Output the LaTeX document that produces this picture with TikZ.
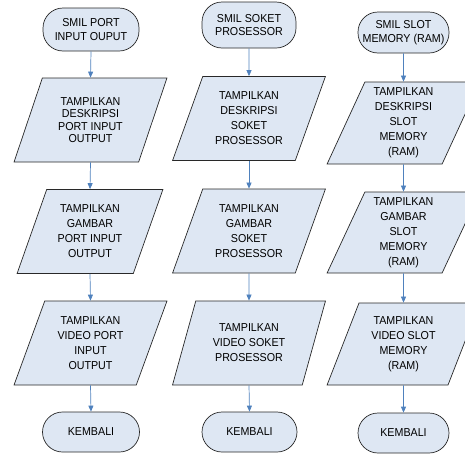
\documentclass[tikz,border=0pt]{standalone}
\usepackage{fontspec}
\setmainfont{Liberation Sans}[FakeStretch=0.93]
\usetikzlibrary{shapes.geometric,arrows.meta}
\definecolor{boxfill}{RGB}{222,231,243}
\definecolor{flowblue}{RGB}{79,129,189}
\definecolor{edgegray}{RGB}{40,40,40}
\tikzset{
  terminal/.style={draw=edgegray, fill=boxfill, rounded corners=20pt, line width=0.7pt,
    align=center, minimum width=95pt, minimum height=42pt, inner sep=1pt,
    font=\fontsize{11.5}{13.5}\selectfont},
  io/.style={trapezium, trapezium left angle=67.4, trapezium right angle=112.6,
    trapezium stretches=true, draw=edgegray, fill=boxfill, line width=0.7pt,
    align=center, minimum width=153pt, minimum height=84pt, inner sep=0pt,
    font=\fontsize{11.5}{15}\selectfont},
  flow/.style={-{Triangle[width=5pt,length=6pt]}, flowblue, line width=0.7pt}
}
\begin{document}
\begin{tikzpicture}[x=1pt,y=-1pt]
\useasboundingbox (0,0) rectangle (465,453);
% kolom port input output
\node[terminal, minimum width=96pt, minimum height=43pt] (smilport) at (91,29.5) {SMIL PORT\\INPUT OUPUT};
\node[io, font=\fontsize{11.5}{12.5}\selectfont] (deskport) at (90.5,120) {TAMPILKAN\\DESKRIPSI\\PORT INPUT\\OUTPUT};
\node[io, minimum width=146pt] (gambarport) at (90,231.5) {TAMPILKAN\\GAMBAR\\PORT INPUT\\OUTPUT};
\node[io] (videoport) at (90.5,343) {TAMPILKAN\\VIDEO PORT\\INPUT\\OUTPUT};
\node[terminal, minimum width=97pt, minimum height=40pt] (kembaliport) at (91,432) {KEMBALI};
% kolom soket prosesor
\node[terminal, minimum width=94pt, minimum height=46pt] (smilsoket) at (249,25) {SMIL SOKET\\PROSESSOR};
\node[io] (desksoket) at (249,118.5) {TAMPILKAN\\DESKRIPSI\\SOKET\\PROSESSOR};
\node[io] (gambarsoket) at (249,231) {TAMPILKAN\\GAMBAR\\SOKET\\PROSESSOR};
\node[io] (videosoket) at (249,343) {TAMPILKAN\\VIDEO SOKET\\PROSESSOR};
\node[terminal, minimum width=95pt, minimum height=40pt] (kembalisoket) at (249.5,432) {KEMBALI};
% kolom slot memory
\node[terminal, minimum width=91pt, minimum height=41pt] (smilslot) at (403.5,32.5) {SMIL SLOT\\MEMORY (RAM)};
\node[io, minimum height=82pt] (deskslot) at (403.5,123) {TAMPILKAN\\DESKRIPSI\\SLOT\\MEMORY\\(RAM)};
\node[io, minimum height=81pt] (gambarslot) at (403.5,232.5) {TAMPILKAN\\GAMBAR\\SLOT\\MEMORY\\(RAM)};
\node[io, minimum height=82pt] (videoslot) at (403.5,344) {TAMPILKAN\\VIDEO SLOT\\MEMORY\\(RAM)};
\node[terminal, minimum width=91pt, minimum height=40pt] (kembalislot) at (403.5,433) {KEMBALI};
% panah
\foreach \a/\b in {smilport/deskport, deskport/gambarport, gambarport/videoport, videoport/kembaliport,
  smilsoket/desksoket, desksoket/gambarsoket, gambarsoket/videosoket, videosoket/kembalisoket,
  smilslot/deskslot, deskslot/gambarslot, gambarslot/videoslot, videoslot/kembalislot}
  \draw[flow] (\a.south) -- (\b.north);
\end{tikzpicture}
\end{document}
